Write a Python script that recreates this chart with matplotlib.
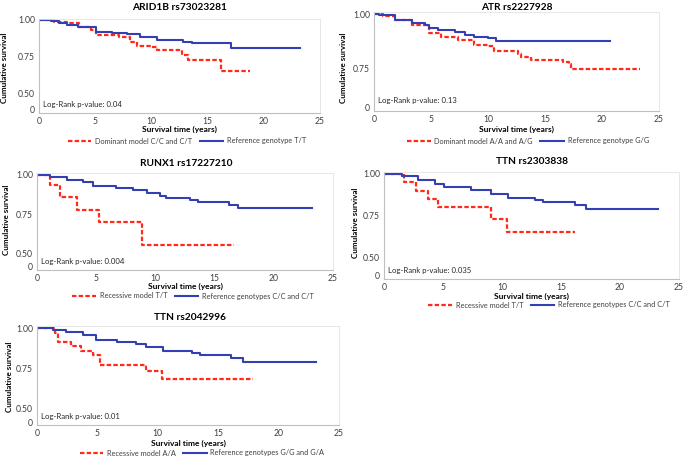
import matplotlib
matplotlib.use("Agg")
import matplotlib.pyplot as plt
from matplotlib.lines import Line2D

plt.rcParams['font.family'] = ['Lato', 'DejaVu Sans']

# ---- data ----
titles = ["ARID1B rs73023281", "ATR rs2227928", "RUNX1 rs17227210",
          "TTN rs2303838", "TTN rs2042996"]
pvalues = ["0.04", "0.13", "0.004", "0.035", "0.01"]
risk_labels = ["Dominant model C/C and C/T", "Dominant model A/A and A/G",
               "Recessive model T/T", "Recessive model T/T",
               "Recessive model A/A"]
ref_labels = ["Reference genotype T/T", "Reference genotype G/G",
              "Reference genotypes C/C and C/T",
              "Reference genotypes C/C and C/T",
              "Reference genotypes G/G and G/A"]

# ARID1B
arid_risk_t = [0, 1.3, 2.5, 3.6, 4.6, 5.1, 7.1, 8.1, 8.7, 10.0, 10.5, 12.7, 13.3, 16.2, 18.8]
arid_risk_s = [1.0, 0.985, 0.977, 0.955, 0.935, 0.90, 0.887, 0.854, 0.826, 0.815, 0.80, 0.764, 0.73, 0.655, 0.655]
arid_ref_t = [0, 1.1, 1.8, 2.5, 3.5, 5.1, 6.5, 7.8, 9.0, 10.5, 12.8, 13.6, 17.1, 23.2]
arid_ref_s = [1.0, 0.99, 0.978, 0.966, 0.95, 0.92, 0.91, 0.903, 0.887, 0.865, 0.85, 0.842, 0.813, 0.813]

# ATR
atr_risk_t = [0, 0.8, 1.8, 3.3, 4.8, 5.9, 7.4, 8.8, 10.0, 10.5, 12.6, 12.9, 13.8, 16.6, 17.1, 17.3, 23.3]
atr_risk_s = [1.0, 0.99, 0.974, 0.952, 0.914, 0.894, 0.88, 0.861, 0.853, 0.83, 0.82, 0.805, 0.792, 0.783, 0.774, 0.75, 0.75]
atr_ref_t = [0, 0.4, 1.8, 3.3, 4.5, 4.8, 5.6, 7.1, 8.0, 8.8, 10.0, 10.7, 20.7]
atr_ref_s = [1.0, 0.995, 0.974, 0.959, 0.952, 0.936, 0.929, 0.918, 0.906, 0.895, 0.891, 0.876, 0.876]

# RUNX1
runx_risk_t = [0, 1.13, 1.98, 3.39, 5.22, 8.89, 16.6]
runx_risk_s = [1.0, 0.935, 0.858, 0.779, 0.704, 0.56, 0.56]
runx_ref_t = [0, 1.07, 2.5, 3.9, 4.74, 6.7, 8.1, 9.26, 10.4, 10.9, 12.9, 13.6, 16.2, 17.0, 23.2]
runx_ref_s = [1.0, 0.99, 0.969, 0.954, 0.933, 0.917, 0.902, 0.885, 0.865, 0.854, 0.84, 0.827, 0.8125, 0.79, 0.79]

# TTN rs2303838
ttn1_risk_t = [0, 1.7, 2.74, 3.73, 4.58, 9.1, 10.4, 16.2]
ttn1_risk_s = [1.0, 0.95, 0.896, 0.85, 0.802, 0.726, 0.65, 0.65]
ttn1_ref_t = [0, 1.5, 2.9, 4.3, 5.1, 7.4, 9.1, 10.5, 12.8, 13.5, 16.2, 17.1, 23.2]
ttn1_ref_s = [1.0, 0.986, 0.962, 0.942, 0.922, 0.906, 0.882, 0.856, 0.846, 0.83, 0.816, 0.79, 0.79]

# TTN rs2042996
ttn2_risk_t = [0, 1.5, 1.75, 2.84, 3.67, 4.6, 5.2, 9.05, 10.35, 17.9]
ttn2_risk_s = [1.0, 0.969, 0.9125, 0.885, 0.854, 0.829, 0.771, 0.729, 0.681, 0.681]
ttn2_ref_t = [0, 1.3, 2.4, 3.8, 4.9, 6.6, 8.2, 9.05, 10.4, 12.8, 13.5, 16.1, 17.05, 23.1]
ttn2_ref_s = [1.0, 0.99, 0.973, 0.958, 0.927, 0.9125, 0.9, 0.881, 0.854, 0.844, 0.829, 0.8125, 0.79, 0.79]

risk_t = [arid_risk_t, atr_risk_t, runx_risk_t, ttn1_risk_t, ttn2_risk_t]
risk_s = [arid_risk_s, atr_risk_s, runx_risk_s, ttn1_risk_s, ttn2_risk_s]
ref_t = [arid_ref_t, atr_ref_t, runx_ref_t, ttn1_ref_t, ttn2_ref_t]
ref_s = [arid_ref_s, atr_ref_s, runx_ref_s, ttn1_ref_s, ttn2_ref_s]

# ---- layout (pixels in a 685x457 figure) ----
W, H = 685, 457
# left, right, top, bottom of plot area; position of the "0" tick (broken axis)
boxes = [(39, 320, 18.5, 113), (374, 659, 11.8, 110.8), (37, 333, 173.4, 269.8),
         (384, 679, 172.3, 278.6), (37, 339, 326.4, 424.8)]
ylims = [(0.37, 1.01), (0.56, 1.01), (0.40, 1.01), (0.37, 1.01), (0.395, 1.01)]
zero_pos = [0.392, 0.573, 0.418, 0.386, 0.4125]
title_xy = [(180, 7), (517, 7), (186, 164), (532, 162), (190, 317)]
ylab_xy = [(5, 68), (343, 68), (7, 220), (356, 223), (10, 377)]
xlab_y = [129, 129, 286, 296, 443]
leg_xy = [(187, 141), (528, 141), (193, 296), (549, 305), (202, 453)]

RED = '#ff2a1a'
BLUE = '#3340b3'

fig = plt.figure(figsize=(W / 100, H / 100), dpi=100)

for i in range(5):
    l, r, t, b = boxes[i]
    ax = fig.add_axes([l / W, 1 - b / H, (r - l) / W, (b - t) / H])
    ax.plot(risk_t[i], risk_s[i], drawstyle='steps-post', color=RED, lw=1.6,
            linestyle=(0, (2, 1)), solid_capstyle='butt')
    ax.plot(ref_t[i], ref_s[i], drawstyle='steps-post', color=BLUE, lw=1.5)
    ax.set_xlim(0, 25)
    ax.set_ylim(*ylims[i])
    ax.set_xticks([0, 5, 10, 15, 20, 25])
    if i == 1:
        ax.set_yticks([zero_pos[i], 0.75, 1.0])
        ax.set_yticklabels(['0', '0.75', '1.00'])
    else:
        ax.set_yticks([zero_pos[i], 0.5, 0.75, 1.0])
        ax.set_yticklabels(['0', '0.50', '0.75', '1.00'])
    ax.tick_params(length=0, labelsize=6.2, colors='#404040', pad=3)
    for side in ['top', 'right']:
        ax.spines[side].set_color('#e3e3e3')
        ax.spines[side].set_linewidth(0.6)
    for side in ['left', 'bottom']:
        ax.spines[side].set_color('#bfbfbf')
        ax.spines[side].set_linewidth(0.8)
    fig.text((l + r) / 2 / W, 1 - xlab_y[i] / H, 'Survival time (years)',
             fontsize=6, fontweight='bold', ha='center', va='center')
    ax.text(0.35, zero_pos[i] + 0.035, 'Log-Rank p-value: ' + pvalues[i],
            fontsize=5.6, color='#262626', va='center')
    handles = [Line2D([], [], color=RED, lw=1.6, linestyle=(0, (2, 1))),
               Line2D([], [], color=BLUE, lw=1.5)]
    lgx, lgy = leg_xy[i]
    fig.legend(handles, [risk_labels[i], ref_labels[i]], ncol=2, frameon=False,
               fontsize=5.3, loc='center', bbox_to_anchor=(lgx / W, 1 - lgy / H),
               handlelength=3.2, columnspacing=1.0, handletextpad=0.5,
               borderaxespad=0, borderpad=0, labelcolor='#404040')
    tx, ty = title_xy[i]
    fig.text(tx / W, 1 - ty / H, titles[i], fontsize=7.3, fontweight='bold',
             ha='center', va='center')
    lx, ly = ylab_xy[i]
    fig.text(lx / W, 1 - ly / H, 'Cumulative survival', fontsize=5.8,
             fontweight='bold', rotation=90, ha='center', va='center')

fig.savefig('out.png', dpi=100)
